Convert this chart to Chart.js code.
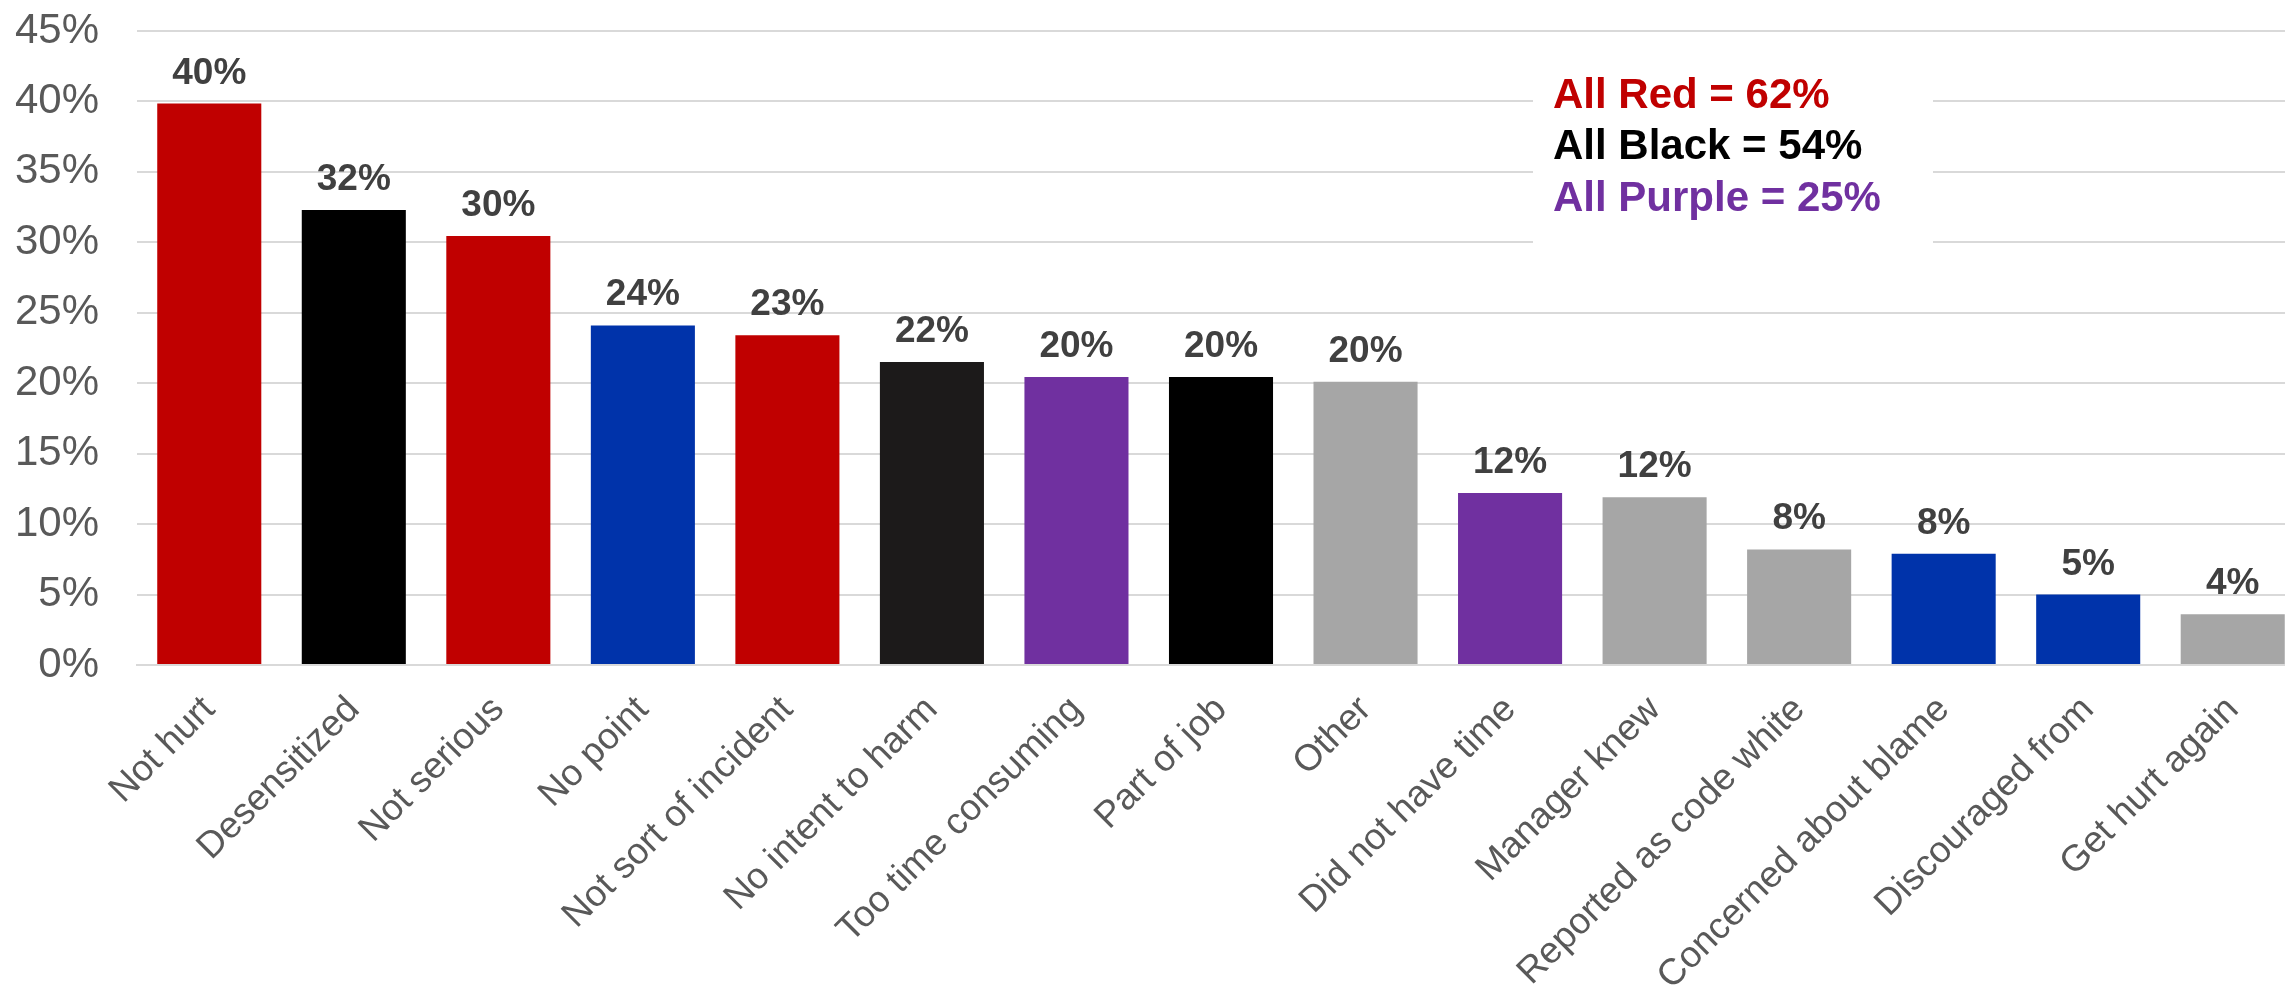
<!DOCTYPE html>
<html>
<head>
<meta charset="utf-8">
<script src="https://cdn.jsdelivr.net/npm/chart.js@4.4.1/dist/chart.umd.min.js"></script>
<style>
  html, body { margin: 0; padding: 0; background: #ffffff; overflow: hidden; }
  #wrap { width: 2305px; height: 987px; position: relative; }
  canvas { display: block; }
</style>
</head>
<body>
<div id="wrap"><canvas id="c" width="2305" height="987"></canvas></div>
<script>
// ---- data ----
const categories = [
  "Not hurt", "Desensitized", "Not serious", "No point", "Not sort of incident",
  "No intent to harm", "Too time consuming", "Part of job", "Other",
  "Did not have time", "Manager knew", "Reported as code white",
  "Concerned about blame", "Discouraged from", "Get hurt again"
];
const values = [39.85, 32.3, 30.45, 24.1, 23.4, 21.5, 20.45, 20.45, 20.1, 12.2, 11.9, 8.2, 7.9, 5.0, 3.6];
const barColors = [
  "#C00000", "#000000", "#C00000", "#0033AA", "#C00000",
  "#1C1A1A", "#7030A0", "#000000", "#A6A6A6",
  "#7030A0", "#A6A6A6", "#A6A6A6", "#0033AA", "#0033AA", "#A6A6A6"
];
const yTicks = [0, 5, 10, 15, 20, 25, 30, 35, 40, 45];
const noteLines = ["All Red = 62%", "All Black = 54%", "All Purple = 25%"];
const noteColors = ["#C00000", "#000000", "#7030A0"];

const FONT = "'Liberation Sans', Arial, Helvetica, sans-serif";

const valueLabels = {
  id: 'valueLabels',
  afterDatasetsDraw(chart) {
    const ctx = chart.ctx;
    const meta = chart.getDatasetMeta(0);
    ctx.save();
    ctx.font = "bold 37px " + FONT;
    ctx.fillStyle = "#404040";
    ctx.textAlign = "center";
    ctx.textBaseline = "alphabetic";
    meta.data.forEach((bar, i) => {
      ctx.fillText(Math.round(values[i]) + "%", bar.x, bar.y - 20);
    });
    ctx.restore();
  }
};

const noteBox = {
  id: 'noteBox',
  afterDatasetsDraw(chart) {
    const ctx = chart.ctx;
    ctx.save();
    ctx.fillStyle = "#ffffff";
    ctx.fillRect(1533, 45, 400, 205);
    ctx.font = "bold 42px " + FONT;
    ctx.textAlign = "left";
    ctx.textBaseline = "alphabetic";
    const baselines = [108, 159, 211];
    noteLines.forEach((t, i) => {
      ctx.fillStyle = noteColors[i];
      ctx.fillText(t, 1553, baselines[i]);
    });
    ctx.restore();
  }
};

new Chart(document.getElementById('c'), {
  type: 'bar',
  data: {
    labels: categories,
    datasets: [{
      data: values,
      backgroundColor: barColors,
      borderWidth: 0,
      categoryPercentage: 1.0,
      barPercentage: 0.72
    }]
  },
  options: {
    responsive: false,
    animation: false,
    devicePixelRatio: 1,
    layout: { padding: { top: 31, left: 0, right: 0, bottom: 0 } },
    plugins: {
      legend: { display: false },
      tooltip: { enabled: false },
      title: { display: false }
    },
    scales: {
      x: {
        grid: { display: false, drawTicks: false },
        border: { display: true, color: "#D9D9D9", width: 2 },
        ticks: {
          color: "#595959",
          font: { family: FONT, size: 37 },
          minRotation: 45,
          maxRotation: 45,
          autoSkip: false,
          padding: 23
        },
        afterFit(scale) {
          scale.height = 322;
          scale.paddingLeft = 0; scale.paddingRight = 0;
        }
      },
      y: {
        min: 0,
        max: 45,
        afterBuildTicks(scale) { scale.ticks = yTicks.map(v => ({ value: v })); },
        grid: { color: "#D9D9D9", lineWidth: 2, drawTicks: false },
        border: { display: false },
        ticks: {
          color: "#595959",
          font: { family: FONT, size: 42 },
          padding: 38,
          callback: v => v + "%"
        },
        afterFit(scale) {
          scale.width = 137;
          scale.paddingTop = 0; scale.paddingBottom = 0;
        }
      }
    }
  },
  plugins: [valueLabels, noteBox]
});
</script>
</body>
</html>
